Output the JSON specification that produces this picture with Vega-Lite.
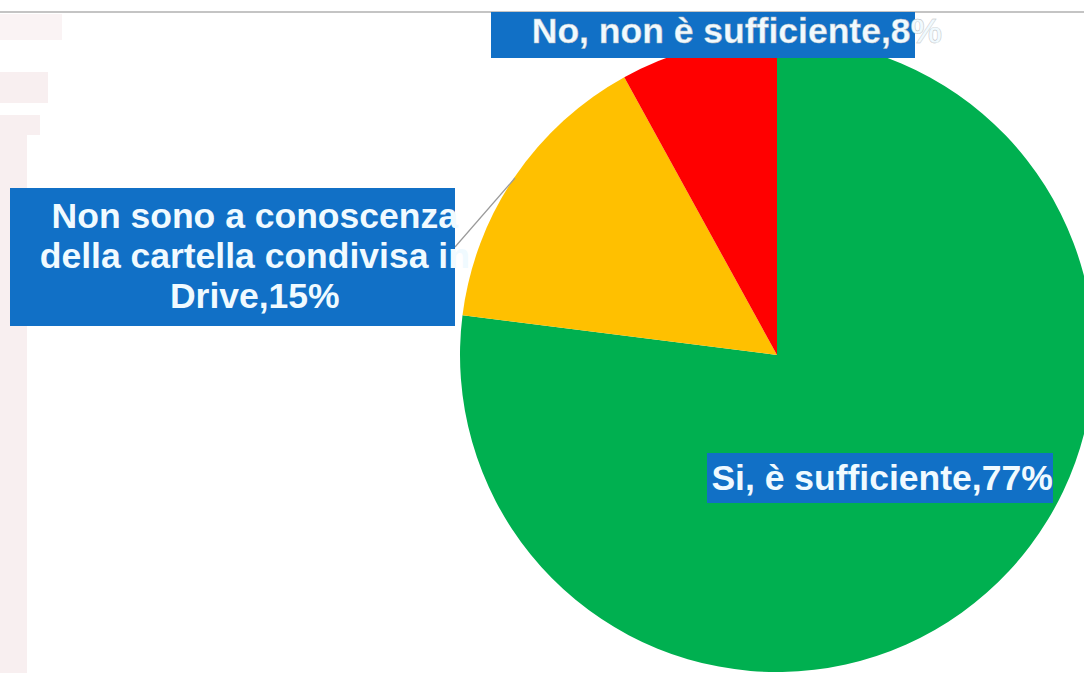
{
  "$schema": "https://vega.github.io/schema/vega-lite/v6.json",
  "width": 1554,
  "height": 710,
  "padding": 0,
  "autosize": {"type": "none"},
  "background": "white",
  "config": {"view": {"stroke": null}},
  "data": {
    "values": [
      {"answer": "Si, è sufficiente", "pct": 77, "order": 1, "label": "Si, è sufficiente,77%"},
      {"answer": "Non sono a conoscenza della cartella condivisa in Drive", "pct": 15, "order": 2, "label": "Non sono a conoscenza\ndella cartella condivisa in\nDrive,15%"},
      {"answer": "No, non è sufficiente", "pct": 8, "order": 3, "label": "No, non è sufficiente,8%"}
    ]
  },
  "layer": [
    {
      "data": {"values": [{}]},
      "mark": {"type": "rect", "x": 0, "x2": 27, "y": 115, "y2": 673, "color": "#f8eff0"}
    },
    {
      "data": {"values": [{}]},
      "mark": {"type": "rect", "x": 0, "x2": 48, "y": 72, "y2": 103, "color": "#f8eff0"}
    },
    {
      "data": {"values": [{}]},
      "mark": {"type": "rect", "x": 0, "x2": 40, "y": 115, "y2": 135, "color": "#f8eff0"}
    },
    {
      "data": {"values": [{}]},
      "mark": {"type": "rect", "x": 0, "x2": 62, "y": 14, "y2": 40, "color": "#faf3f4"}
    },
    {
      "data": {"values": [{}]},
      "mark": {"type": "rule", "color": "#c4c4c4", "strokeWidth": 2},
      "encoding": {
        "x": {"value": 0},
        "x2": {"value": 1084},
        "y": {"value": 12},
        "y2": {"value": 12}
      }
    },
    {
      "mark": {"type": "arc", "outerRadius": 317},
      "encoding": {
        "theta": {"field": "pct", "type": "quantitative", "stack": true},
        "order": {"field": "order", "type": "quantitative"},
        "color": {
          "field": "answer",
          "type": "nominal",
          "legend": null,
          "scale": {
            "domain": ["Si, è sufficiente", "Non sono a conoscenza della cartella condivisa in Drive", "No, non è sufficiente"],
            "range": ["#00B050", "#FFC000", "#FF0000"]
          }
        }
      }
    },
    {
      "data": {"values": [{}]},
      "mark": {"type": "rule", "color": "#9a9a9a", "strokeWidth": 1.2},
      "encoding": {
        "x": {"value": 455},
        "x2": {"value": 515},
        "y": {"value": 247},
        "y2": {"value": 178}
      }
    },
    {
      "data": {"values": [{}]},
      "mark": {"type": "rect", "x": 491, "x2": 915, "y": 12, "y2": 58, "color": "#1170C6"}
    },
    {
      "data": {"values": [{}]},
      "mark": {"type": "rect", "x": 10, "x2": 455, "y": 188, "y2": 326, "color": "#1170C6"}
    },
    {
      "data": {"values": [{}]},
      "mark": {"type": "rect", "x": 707, "x2": 1053, "y": 453, "y2": 503, "color": "#1170C6"}
    },
    {
      "mark": {"type": "text", "radius": 180, "dx": -14, "dy": 0, "font": "Liberation Sans", "fontWeight": "bold", "fontSize": 35.5, "fill": "#F0FAFF", "align": "center", "baseline": "alphabetic"},
      "encoding": {
        "theta": {"field": "pct", "type": "quantitative", "stack": true},
        "order": {"field": "order", "type": "quantitative"},
        "text": {"condition": {"test": "datum.order === 1", "field": "label"}, "value": ""}
      }
    },
    {
      "mark": {"type": "text", "radius": 340, "dx": -241, "dy": 64, "font": "Liberation Sans", "fontWeight": "bold", "fontSize": 35.5, "lineHeight": 40, "lineBreak": "\n", "fill": "#F0FAFF", "align": "center", "baseline": "alphabetic"},
      "encoding": {
        "theta": {"field": "pct", "type": "quantitative", "stack": true},
        "order": {"field": "order", "type": "quantitative"},
        "text": {"condition": {"test": "datum.order === 2", "field": "label"}, "value": ""}
      }
    },
    {
      "mark": {"type": "text", "radius": 330, "dx": 42, "dy": 8, "font": "Liberation Sans", "fontWeight": "bold", "fontSize": 35.5, "fill": "#F0FAFF", "align": "center", "baseline": "alphabetic", "stroke": "#b8b8b8", "strokeWidth": 0.4},
      "encoding": {
        "theta": {"field": "pct", "type": "quantitative", "stack": true},
        "order": {"field": "order", "type": "quantitative"},
        "text": {"condition": {"test": "datum.order === 3", "field": "label"}, "value": ""}
      }
    }
  ]
}
